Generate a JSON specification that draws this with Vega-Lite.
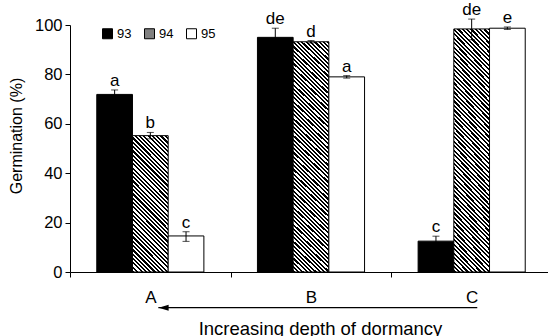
{
"$schema": "https://vega.github.io/schema/vega-lite/v6.json",
"width": 478, "height": 247,
"autosize": {"type": "none"},
"padding": {"left": 70, "top": 25, "right": 0, "bottom": 64},
"config": {"font": "Liberation Sans", "view": {"stroke": null},
 "axis": {"domainColor": "#000", "tickColor": "#000", "labelColor": "#000", "titleColor": "#000", "grid": false, "titleFontWeight": "normal", "labelFont": "Liberation Sans", "titleFont": "Liberation Sans", "labelOverlap": false},
 "axisY": {"labelOverlap": false, "labelFontSize": 16.5, "tickCount": 10}},
"data": {"values": [
 {"group": "A", "series": "93", "value": 71.9, "lo": 70.1, "hi": 73.7, "label": "a"},
 {"group": "A", "series": "94", "value": 55.2, "lo": 53.9, "hi": 56.5, "label": "b"},
 {"group": "A", "series": "95", "value": 14.6, "lo": 12.4, "hi": 16.3, "label": "c"},
 {"group": "B", "series": "93", "value": 95.0, "lo": 91.2, "hi": 98.7, "label": "de"},
 {"group": "B", "series": "94", "value": 93.2, "lo": 92.7, "hi": 93.7, "label": "d"},
 {"group": "B", "series": "95", "value": 79.0, "lo": 78.5, "hi": 79.5, "label": "a"},
 {"group": "C", "series": "93", "value": 12.5, "lo": 10.5, "hi": 14.5, "label": "c"},
 {"group": "C", "series": "94", "value": 98.4, "lo": 94.0, "hi": 102.4, "label": "de"},
 {"group": "C", "series": "95", "value": 98.7, "lo": 98.2, "hi": 99.2, "label": "e"}
]},
"layer": [
 {"mark": {"type": "bar", "stroke": "#000", "strokeWidth": 1},
  "encoding": {
   "x": {"field": "group", "type": "nominal", "scale": {"range": [0, 482], "paddingInner": 0, "paddingOuter": 0},
    "axis": {"title": "Increasing depth of dormancy", "labelAngle": 0, "labelFontSize": 17, "labelPadding": 12, "tickSize": 5, "tickBand": "extent", "titleFontSize": 18.5, "titleX": 250, "titleY": 62, "titleBaseline": "alphabetic", "titleAlign": "center"}},
   "xOffset": {"field": "series", "type": "nominal", "scale": {"paddingInner": 0, "paddingOuter": 0.75}},
   "y": {"field": "value", "type": "quantitative", "scale": {"domain": [0, 100], "nice": false},
    "axis": {"values": [0, 10, 20, 30, 40, 50, 60, 70, 80, 90, 100], "tickCount": 10, "labelOverlap": false, "title": "Germination (%)", "labelFontSize": 16.5, "tickSize": 5, "labelPadding": 3, "titleFontSize": 16, "titleX": -54, "titleY": 110.5, "titleAngle": -90, "titleBaseline": "middle", "titleAlign": "center"}},
   "fill": {
    "condition": [
     {"test": "datum.series === '94' && datum.group === 'A'", "value": {"gradient": "linear", "x1": 0, "y1": 1, "x2": 0.3103, "y2": -0.1812, "stops": [
{"offset":0,"color":"#000"},
{"offset":0.0125,"color":"#000"},{"offset":0.0125,"color":"#fff"},{"offset":0.025,"color":"#fff"},{"offset":0.025,"color":"#000"},
{"offset":0.0375,"color":"#000"},{"offset":0.0375,"color":"#fff"},{"offset":0.05,"color":"#fff"},{"offset":0.05,"color":"#000"},
{"offset":0.0625,"color":"#000"},{"offset":0.0625,"color":"#fff"},{"offset":0.075,"color":"#fff"},{"offset":0.075,"color":"#000"},
{"offset":0.0875,"color":"#000"},{"offset":0.0875,"color":"#fff"},{"offset":0.1,"color":"#fff"},{"offset":0.1,"color":"#000"},
{"offset":0.1125,"color":"#000"},{"offset":0.1125,"color":"#fff"},{"offset":0.125,"color":"#fff"},{"offset":0.125,"color":"#000"},
{"offset":0.1375,"color":"#000"},{"offset":0.1375,"color":"#fff"},{"offset":0.15,"color":"#fff"},{"offset":0.15,"color":"#000"},
{"offset":0.1625,"color":"#000"},{"offset":0.1625,"color":"#fff"},{"offset":0.175,"color":"#fff"},{"offset":0.175,"color":"#000"},
{"offset":0.1875,"color":"#000"},{"offset":0.1875,"color":"#fff"},{"offset":0.2,"color":"#fff"},{"offset":0.2,"color":"#000"},
{"offset":0.2125,"color":"#000"},{"offset":0.2125,"color":"#fff"},{"offset":0.225,"color":"#fff"},{"offset":0.225,"color":"#000"},
{"offset":0.2375,"color":"#000"},{"offset":0.2375,"color":"#fff"},{"offset":0.25,"color":"#fff"},{"offset":0.25,"color":"#000"},
{"offset":0.2625,"color":"#000"},{"offset":0.2625,"color":"#fff"},{"offset":0.275,"color":"#fff"},{"offset":0.275,"color":"#000"},
{"offset":0.2875,"color":"#000"},{"offset":0.2875,"color":"#fff"},{"offset":0.3,"color":"#fff"},{"offset":0.3,"color":"#000"},
{"offset":0.3125,"color":"#000"},{"offset":0.3125,"color":"#fff"},{"offset":0.325,"color":"#fff"},{"offset":0.325,"color":"#000"},
{"offset":0.3375,"color":"#000"},{"offset":0.3375,"color":"#fff"},{"offset":0.35,"color":"#fff"},{"offset":0.35,"color":"#000"},
{"offset":0.3625,"color":"#000"},{"offset":0.3625,"color":"#fff"},{"offset":0.375,"color":"#fff"},{"offset":0.375,"color":"#000"},
{"offset":0.3875,"color":"#000"},{"offset":0.3875,"color":"#fff"},{"offset":0.4,"color":"#fff"},{"offset":0.4,"color":"#000"},
{"offset":0.4125,"color":"#000"},{"offset":0.4125,"color":"#fff"},{"offset":0.425,"color":"#fff"},{"offset":0.425,"color":"#000"},
{"offset":0.4375,"color":"#000"},{"offset":0.4375,"color":"#fff"},{"offset":0.45,"color":"#fff"},{"offset":0.45,"color":"#000"},
{"offset":0.4625,"color":"#000"},{"offset":0.4625,"color":"#fff"},{"offset":0.475,"color":"#fff"},{"offset":0.475,"color":"#000"},
{"offset":0.4875,"color":"#000"},{"offset":0.4875,"color":"#fff"},{"offset":0.5,"color":"#fff"},{"offset":0.5,"color":"#000"},
{"offset":0.5125,"color":"#000"},{"offset":0.5125,"color":"#fff"},{"offset":0.525,"color":"#fff"},{"offset":0.525,"color":"#000"},
{"offset":0.5375,"color":"#000"},{"offset":0.5375,"color":"#fff"},{"offset":0.55,"color":"#fff"},{"offset":0.55,"color":"#000"},
{"offset":0.5625,"color":"#000"},{"offset":0.5625,"color":"#fff"},{"offset":0.575,"color":"#fff"},{"offset":0.575,"color":"#000"},
{"offset":0.5875,"color":"#000"},{"offset":0.5875,"color":"#fff"},{"offset":0.6,"color":"#fff"},{"offset":0.6,"color":"#000"},
{"offset":0.6125,"color":"#000"},{"offset":0.6125,"color":"#fff"},{"offset":0.625,"color":"#fff"},{"offset":0.625,"color":"#000"},
{"offset":0.6375,"color":"#000"},{"offset":0.6375,"color":"#fff"},{"offset":0.65,"color":"#fff"},{"offset":0.65,"color":"#000"},
{"offset":0.6625,"color":"#000"},{"offset":0.6625,"color":"#fff"},{"offset":0.675,"color":"#fff"},{"offset":0.675,"color":"#000"},
{"offset":0.6875,"color":"#000"},{"offset":0.6875,"color":"#fff"},{"offset":0.7,"color":"#fff"},{"offset":0.7,"color":"#000"},
{"offset":0.7125,"color":"#000"},{"offset":0.7125,"color":"#fff"},{"offset":0.725,"color":"#fff"},{"offset":0.725,"color":"#000"},
{"offset":0.7375,"color":"#000"},{"offset":0.7375,"color":"#fff"},{"offset":0.75,"color":"#fff"},{"offset":0.75,"color":"#000"},
{"offset":0.7625,"color":"#000"},{"offset":0.7625,"color":"#fff"},{"offset":0.775,"color":"#fff"},{"offset":0.775,"color":"#000"},
{"offset":0.7875,"color":"#000"},{"offset":0.7875,"color":"#fff"},{"offset":0.8,"color":"#fff"},{"offset":0.8,"color":"#000"},
{"offset":0.8125,"color":"#000"},{"offset":0.8125,"color":"#fff"},{"offset":0.825,"color":"#fff"},{"offset":0.825,"color":"#000"},
{"offset":0.8375,"color":"#000"},{"offset":0.8375,"color":"#fff"},{"offset":0.85,"color":"#fff"},{"offset":0.85,"color":"#000"},
{"offset":0.8625,"color":"#000"},{"offset":0.8625,"color":"#fff"},{"offset":0.875,"color":"#fff"},{"offset":0.875,"color":"#000"},
{"offset":0.8875,"color":"#000"},{"offset":0.8875,"color":"#fff"},{"offset":0.9,"color":"#fff"},{"offset":0.9,"color":"#000"},
{"offset":0.9125,"color":"#000"},{"offset":0.9125,"color":"#fff"},{"offset":0.925,"color":"#fff"},{"offset":0.925,"color":"#000"},
{"offset":0.9375,"color":"#000"},{"offset":0.9375,"color":"#fff"},{"offset":0.95,"color":"#fff"},{"offset":0.95,"color":"#000"},
{"offset":0.9625,"color":"#000"},{"offset":0.9625,"color":"#fff"},{"offset":0.975,"color":"#fff"},{"offset":0.975,"color":"#000"},
{"offset":0.9875,"color":"#000"},{"offset":0.9875,"color":"#fff"},{"offset":1,"color":"#fff"}
     ]}},
     {"test": "datum.series === '94'", "value": {"gradient": "linear", "x1": 0, "y1": 1, "x2": 0.1703, "y2": -0.1255, "stops": [
{"offset":0,"color":"#000"},
{"offset":0.008,"color":"#000"},{"offset":0.008,"color":"#fff"},{"offset":0.016,"color":"#fff"},{"offset":0.016,"color":"#000"},
{"offset":0.024,"color":"#000"},{"offset":0.024,"color":"#fff"},{"offset":0.032,"color":"#fff"},{"offset":0.032,"color":"#000"},
{"offset":0.04,"color":"#000"},{"offset":0.04,"color":"#fff"},{"offset":0.048,"color":"#fff"},{"offset":0.048,"color":"#000"},
{"offset":0.056,"color":"#000"},{"offset":0.056,"color":"#fff"},{"offset":0.064,"color":"#fff"},{"offset":0.064,"color":"#000"},
{"offset":0.072,"color":"#000"},{"offset":0.072,"color":"#fff"},{"offset":0.08,"color":"#fff"},{"offset":0.08,"color":"#000"},
{"offset":0.088,"color":"#000"},{"offset":0.088,"color":"#fff"},{"offset":0.096,"color":"#fff"},{"offset":0.096,"color":"#000"},
{"offset":0.104,"color":"#000"},{"offset":0.104,"color":"#fff"},{"offset":0.112,"color":"#fff"},{"offset":0.112,"color":"#000"},
{"offset":0.12,"color":"#000"},{"offset":0.12,"color":"#fff"},{"offset":0.128,"color":"#fff"},{"offset":0.128,"color":"#000"},
{"offset":0.136,"color":"#000"},{"offset":0.136,"color":"#fff"},{"offset":0.144,"color":"#fff"},{"offset":0.144,"color":"#000"},
{"offset":0.152,"color":"#000"},{"offset":0.152,"color":"#fff"},{"offset":0.16,"color":"#fff"},{"offset":0.16,"color":"#000"},
{"offset":0.168,"color":"#000"},{"offset":0.168,"color":"#fff"},{"offset":0.176,"color":"#fff"},{"offset":0.176,"color":"#000"},
{"offset":0.184,"color":"#000"},{"offset":0.184,"color":"#fff"},{"offset":0.192,"color":"#fff"},{"offset":0.192,"color":"#000"},
{"offset":0.2,"color":"#000"},{"offset":0.2,"color":"#fff"},{"offset":0.208,"color":"#fff"},{"offset":0.208,"color":"#000"},
{"offset":0.216,"color":"#000"},{"offset":0.216,"color":"#fff"},{"offset":0.224,"color":"#fff"},{"offset":0.224,"color":"#000"},
{"offset":0.232,"color":"#000"},{"offset":0.232,"color":"#fff"},{"offset":0.24,"color":"#fff"},{"offset":0.24,"color":"#000"},
{"offset":0.248,"color":"#000"},{"offset":0.248,"color":"#fff"},{"offset":0.256,"color":"#fff"},{"offset":0.256,"color":"#000"},
{"offset":0.264,"color":"#000"},{"offset":0.264,"color":"#fff"},{"offset":0.272,"color":"#fff"},{"offset":0.272,"color":"#000"},
{"offset":0.28,"color":"#000"},{"offset":0.28,"color":"#fff"},{"offset":0.288,"color":"#fff"},{"offset":0.288,"color":"#000"},
{"offset":0.296,"color":"#000"},{"offset":0.296,"color":"#fff"},{"offset":0.304,"color":"#fff"},{"offset":0.304,"color":"#000"},
{"offset":0.312,"color":"#000"},{"offset":0.312,"color":"#fff"},{"offset":0.32,"color":"#fff"},{"offset":0.32,"color":"#000"},
{"offset":0.328,"color":"#000"},{"offset":0.328,"color":"#fff"},{"offset":0.336,"color":"#fff"},{"offset":0.336,"color":"#000"},
{"offset":0.344,"color":"#000"},{"offset":0.344,"color":"#fff"},{"offset":0.352,"color":"#fff"},{"offset":0.352,"color":"#000"},
{"offset":0.36,"color":"#000"},{"offset":0.36,"color":"#fff"},{"offset":0.368,"color":"#fff"},{"offset":0.368,"color":"#000"},
{"offset":0.376,"color":"#000"},{"offset":0.376,"color":"#fff"},{"offset":0.384,"color":"#fff"},{"offset":0.384,"color":"#000"},
{"offset":0.392,"color":"#000"},{"offset":0.392,"color":"#fff"},{"offset":0.4,"color":"#fff"},{"offset":0.4,"color":"#000"},
{"offset":0.408,"color":"#000"},{"offset":0.408,"color":"#fff"},{"offset":0.416,"color":"#fff"},{"offset":0.416,"color":"#000"},
{"offset":0.424,"color":"#000"},{"offset":0.424,"color":"#fff"},{"offset":0.432,"color":"#fff"},{"offset":0.432,"color":"#000"},
{"offset":0.44,"color":"#000"},{"offset":0.44,"color":"#fff"},{"offset":0.448,"color":"#fff"},{"offset":0.448,"color":"#000"},
{"offset":0.456,"color":"#000"},{"offset":0.456,"color":"#fff"},{"offset":0.464,"color":"#fff"},{"offset":0.464,"color":"#000"},
{"offset":0.472,"color":"#000"},{"offset":0.472,"color":"#fff"},{"offset":0.48,"color":"#fff"},{"offset":0.48,"color":"#000"},
{"offset":0.488,"color":"#000"},{"offset":0.488,"color":"#fff"},{"offset":0.496,"color":"#fff"},{"offset":0.496,"color":"#000"},
{"offset":0.504,"color":"#000"},{"offset":0.504,"color":"#fff"},{"offset":0.512,"color":"#fff"},{"offset":0.512,"color":"#000"},
{"offset":0.52,"color":"#000"},{"offset":0.52,"color":"#fff"},{"offset":0.528,"color":"#fff"},{"offset":0.528,"color":"#000"},
{"offset":0.536,"color":"#000"},{"offset":0.536,"color":"#fff"},{"offset":0.544,"color":"#fff"},{"offset":0.544,"color":"#000"},
{"offset":0.552,"color":"#000"},{"offset":0.552,"color":"#fff"},{"offset":0.56,"color":"#fff"},{"offset":0.56,"color":"#000"},
{"offset":0.568,"color":"#000"},{"offset":0.568,"color":"#fff"},{"offset":0.576,"color":"#fff"},{"offset":0.576,"color":"#000"},
{"offset":0.584,"color":"#000"},{"offset":0.584,"color":"#fff"},{"offset":0.592,"color":"#fff"},{"offset":0.592,"color":"#000"},
{"offset":0.6,"color":"#000"},{"offset":0.6,"color":"#fff"},{"offset":0.608,"color":"#fff"},{"offset":0.608,"color":"#000"},
{"offset":0.616,"color":"#000"},{"offset":0.616,"color":"#fff"},{"offset":0.624,"color":"#fff"},{"offset":0.624,"color":"#000"},
{"offset":0.632,"color":"#000"},{"offset":0.632,"color":"#fff"},{"offset":0.64,"color":"#fff"},{"offset":0.64,"color":"#000"},
{"offset":0.648,"color":"#000"},{"offset":0.648,"color":"#fff"},{"offset":0.656,"color":"#fff"},{"offset":0.656,"color":"#000"},
{"offset":0.664,"color":"#000"},{"offset":0.664,"color":"#fff"},{"offset":0.672,"color":"#fff"},{"offset":0.672,"color":"#000"},
{"offset":0.68,"color":"#000"},{"offset":0.68,"color":"#fff"},{"offset":0.688,"color":"#fff"},{"offset":0.688,"color":"#000"},
{"offset":0.696,"color":"#000"},{"offset":0.696,"color":"#fff"},{"offset":0.704,"color":"#fff"},{"offset":0.704,"color":"#000"},
{"offset":0.712,"color":"#000"},{"offset":0.712,"color":"#fff"},{"offset":0.72,"color":"#fff"},{"offset":0.72,"color":"#000"},
{"offset":0.728,"color":"#000"},{"offset":0.728,"color":"#fff"},{"offset":0.736,"color":"#fff"},{"offset":0.736,"color":"#000"},
{"offset":0.744,"color":"#000"},{"offset":0.744,"color":"#fff"},{"offset":0.752,"color":"#fff"},{"offset":0.752,"color":"#000"},
{"offset":0.76,"color":"#000"},{"offset":0.76,"color":"#fff"},{"offset":0.768,"color":"#fff"},{"offset":0.768,"color":"#000"},
{"offset":0.776,"color":"#000"},{"offset":0.776,"color":"#fff"},{"offset":0.784,"color":"#fff"},{"offset":0.784,"color":"#000"},
{"offset":0.792,"color":"#000"},{"offset":0.792,"color":"#fff"},{"offset":0.8,"color":"#fff"},{"offset":0.8,"color":"#000"},
{"offset":0.808,"color":"#000"},{"offset":0.808,"color":"#fff"},{"offset":0.816,"color":"#fff"},{"offset":0.816,"color":"#000"},
{"offset":0.824,"color":"#000"},{"offset":0.824,"color":"#fff"},{"offset":0.832,"color":"#fff"},{"offset":0.832,"color":"#000"},
{"offset":0.84,"color":"#000"},{"offset":0.84,"color":"#fff"},{"offset":0.848,"color":"#fff"},{"offset":0.848,"color":"#000"},
{"offset":0.856,"color":"#000"},{"offset":0.856,"color":"#fff"},{"offset":0.864,"color":"#fff"},{"offset":0.864,"color":"#000"},
{"offset":0.872,"color":"#000"},{"offset":0.872,"color":"#fff"},{"offset":0.88,"color":"#fff"},{"offset":0.88,"color":"#000"},
{"offset":0.888,"color":"#000"},{"offset":0.888,"color":"#fff"},{"offset":0.896,"color":"#fff"},{"offset":0.896,"color":"#000"},
{"offset":0.904,"color":"#000"},{"offset":0.904,"color":"#fff"},{"offset":0.912,"color":"#fff"},{"offset":0.912,"color":"#000"},
{"offset":0.92,"color":"#000"},{"offset":0.92,"color":"#fff"},{"offset":0.928,"color":"#fff"},{"offset":0.928,"color":"#000"},
{"offset":0.936,"color":"#000"},{"offset":0.936,"color":"#fff"},{"offset":0.944,"color":"#fff"},{"offset":0.944,"color":"#000"},
{"offset":0.952,"color":"#000"},{"offset":0.952,"color":"#fff"},{"offset":0.96,"color":"#fff"},{"offset":0.96,"color":"#000"},
{"offset":0.968,"color":"#000"},{"offset":0.968,"color":"#fff"},{"offset":0.976,"color":"#fff"},{"offset":0.976,"color":"#000"},
{"offset":0.984,"color":"#000"},{"offset":0.984,"color":"#fff"},{"offset":0.992,"color":"#fff"},{"offset":0.992,"color":"#000"},
{"offset":1,"color":"#000"}
     ]}}
    ],
    "field": "series", "type": "nominal",
    "scale": {"domain": ["93", "94", "95"], "range": ["#000000", "#808080", "#ffffff"]},
    "legend": {"title": null, "orient": "none", "legendX": 31, "legendY": 2, "direction": "horizontal", "symbolType": "square", "symbolSize": 100, "symbolStrokeColor": "#000", "symbolStrokeWidth": 1, "symbolOpacity": 1, "labelFontSize": 13, "labelColor": "#000", "labelOffset": 3, "columnPadding": 10}
   }
  }
 },
 {"mark": {"type": "rule", "color": "#000", "strokeWidth": 1},
  "encoding": {
   "x": {"field": "group", "type": "nominal"},
   "xOffset": {"field": "series", "type": "nominal"},
   "y": {"field": "lo", "type": "quantitative", "title": "Germination (%)", "axis": {"values": [0, 10, 20, 30, 40, 50, 60, 70, 80, 90, 100], "tickCount": 10, "labelOverlap": false}},
   "y2": {"field": "hi"}
  }
 },
 {"mark": {"type": "tick", "color": "#000", "thickness": 1, "size": 7},
  "encoding": {
   "x": {"field": "group", "type": "nominal"},
   "xOffset": {"field": "series", "type": "nominal"},
   "y": {"field": "hi", "type": "quantitative", "title": "Germination (%)", "axis": {"values": [0, 10, 20, 30, 40, 50, 60, 70, 80, 90, 100], "tickCount": 10, "labelOverlap": false}}
  }
 },
 {"mark": {"type": "tick", "color": "#000", "thickness": 1, "size": 7},
  "encoding": {
   "x": {"field": "group", "type": "nominal"},
   "xOffset": {"field": "series", "type": "nominal"},
   "y": {"field": "lo", "type": "quantitative", "title": "Germination (%)", "axis": {"values": [0, 10, 20, 30, 40, 50, 60, 70, 80, 90, 100], "tickCount": 10, "labelOverlap": false}}
  }
 },
 {"mark": {"type": "text", "fontSize": 17, "baseline": "alphabetic", "dy": -4, "color": "#000"},
  "encoding": {
   "x": {"field": "group", "type": "nominal"},
   "xOffset": {"field": "series", "type": "nominal"},
   "y": {"field": "hi", "type": "quantitative", "title": "Germination (%)", "axis": {"values": [0, 10, 20, 30, 40, 50, 60, 70, 80, 90, 100], "tickCount": 10, "labelOverlap": false}},
   "text": {"field": "label"}
  }
 },
 {"data": {"values": [{}]},
  "mark": {"type": "rule", "color": "#000", "strokeWidth": 1.2, "xOffset": 8, "x2Offset": 5.6},
  "encoding": {
   "x": {"datum": "A", "type": "nominal"},
   "x2": {"datum": "C"},
   "y": {"datum": -14.45, "type": "quantitative", "title": "Germination (%)", "axis": {"values": [0, 10, 20, 30, 40, 50, 60, 70, 80, 90, 100], "tickCount": 10, "labelOverlap": false}}
  }
 },
 {"data": {"values": [{}]},
  "mark": {"type": "point", "shape": "M-1,0L1,-0.6L1,0.6Z", "size": 100, "filled": true, "color": "#000", "opacity": 1, "xOffset": 13.3},
  "encoding": {
   "x": {"datum": "A", "type": "nominal"},
   "y": {"datum": -14.45, "type": "quantitative", "title": "Germination (%)", "axis": {"values": [0, 10, 20, 30, 40, 50, 60, 70, 80, 90, 100], "tickCount": 10, "labelOverlap": false}}
  }
 }
]
}
